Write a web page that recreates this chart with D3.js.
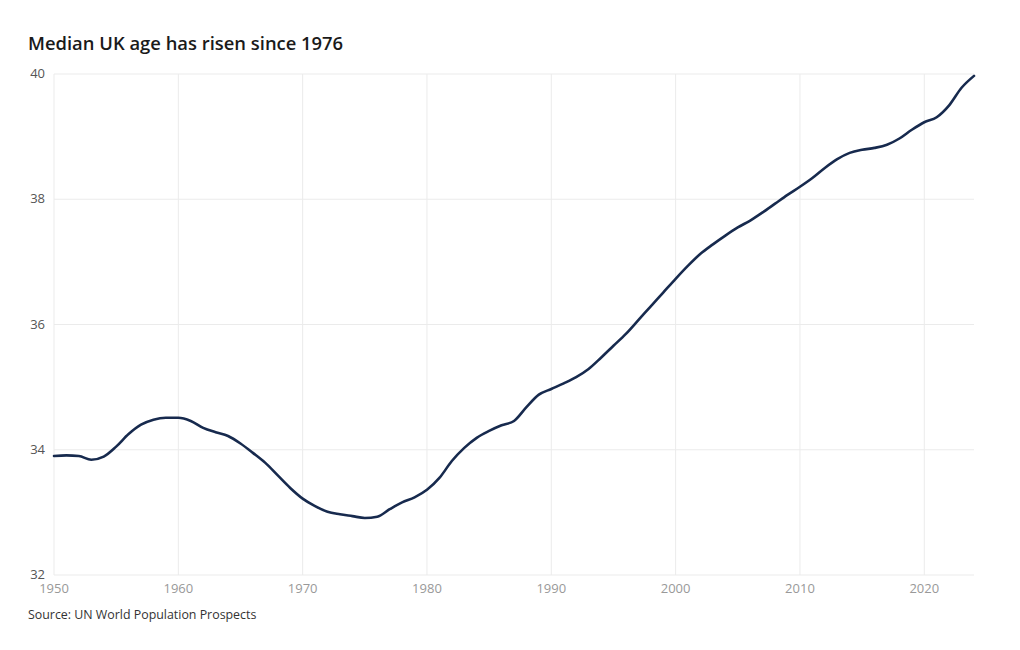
<!DOCTYPE html>
<html>
<head>
<meta charset="utf-8">
<script src="https://cdn.jsdelivr.net/npm/d3@7"></script>
<style>
  body { margin: 0; background: #fff; }
  text { font-family: "Open Sans", sans-serif; }
</style>
</head>
<body>
<svg id="chart"></svg>
<script>
const WIDTH = 1020
const HEIGHT = 650
const MARGIN = {top: 74, right: 46, bottom: 75, left: 54}

const years = d3.range(1950, 2025)
const medianAge = [
  33.90, 33.91, 33.90, 33.84, 33.89, 34.05, 34.25, 34.40, 34.48, 34.51,
  34.51, 34.46, 34.35, 34.28, 34.22, 34.10, 33.95, 33.79, 33.59, 33.39,
  33.22, 33.10, 33.01, 32.97, 32.94, 32.91, 32.93, 33.05, 33.16, 33.24,
  33.36, 33.55, 33.82, 34.03, 34.19, 34.30, 34.39, 34.46, 34.68, 34.88,
  34.97, 35.06, 35.16, 35.29, 35.47, 35.66, 35.85, 36.07, 36.29, 36.51,
  36.73, 36.94, 37.13, 37.28, 37.42, 37.55, 37.66, 37.79, 37.93, 38.07,
  38.20, 38.34, 38.50, 38.64, 38.74, 38.79, 38.82, 38.87, 38.97, 39.11,
  39.23, 39.31, 39.50, 39.78, 39.97
]
const xTicks = [1950, 1960, 1970, 1980, 1990, 2000, 2010, 2020]
const yTicks = [32, 34, 36, 38, 40]

const title = "Median UK age has risen since 1976"
const source = "Source: UN World Population Prospects"

const data = years.map((year, i) => ({year, value: medianAge[i]}))

const svg = d3.select("#chart").attr("width", WIDTH).attr("height", HEIGHT)

const x = d3
  .scaleLinear()
  .domain([1950, 2024])
  .range([MARGIN.left, WIDTH - MARGIN.right])
const y = d3
  .scaleLinear()
  .domain([32, 40])
  .range([HEIGHT - MARGIN.bottom, MARGIN.top])

// gridlines
svg
  .append("g")
  .selectAll("line")
  .data(xTicks)
  .enter()
  .append("line")
  .attr("x1", (d) => x(d))
  .attr("x2", (d) => x(d))
  .attr("y1", y(40))
  .attr("y2", y(32))
  .attr("stroke", "#ebebeb")
  .attr("stroke-width", 1)

svg
  .append("g")
  .selectAll("line")
  .data(yTicks)
  .enter()
  .append("line")
  .attr("x1", x(1950))
  .attr("x2", x(2024))
  .attr("y1", (d) => y(d))
  .attr("y2", (d) => y(d))
  .attr("stroke", "#ebebeb")
  .attr("stroke-width", 1)

// y labels
svg
  .append("g")
  .selectAll("text")
  .data(yTicks)
  .enter()
  .append("text")
  .attr("x", 45)
  .attr("y", (d) => y(d))
  .attr("dy", "0.32em")
  .attr("text-anchor", "end")
  .attr("font-size", 13)
  .attr("fill", "#555")
  .text((d) => d)

// x labels
svg
  .append("g")
  .selectAll("text")
  .data(xTicks)
  .enter()
  .append("text")
  .attr("x", (d) => x(d))
  .attr("y", y(32) + 18)
  .attr("text-anchor", "middle")
  .attr("font-size", 13)
  .attr("fill", "#999")
  .text((d) => d)

const line = d3
  .line()
  .x((d) => x(d.year))
  .y((d) => y(d.value))
  .curve(d3.curveMonotoneX)

svg
  .append("path")
  .datum(data)
  .attr("d", line)
  .attr("fill", "none")
  .attr("stroke", "#172a4e")
  .attr("stroke-width", 2.6)
  .attr("stroke-linejoin", "round")
  .attr("stroke-linecap", "round")

svg
  .append("text")
  .attr("x", 28)
  .attr("y", 50)
  .attr("font-size", 18.4)
  .attr("font-weight", 600)
  .attr("fill", "#1a1a1a")
  .text(title)

svg
  .append("text")
  .attr("x", 28)
  .attr("y", 619)
  .attr("font-size", 12.4)
  .attr("fill", "#333")
  .text(source)
</script>
</body>
</html>
